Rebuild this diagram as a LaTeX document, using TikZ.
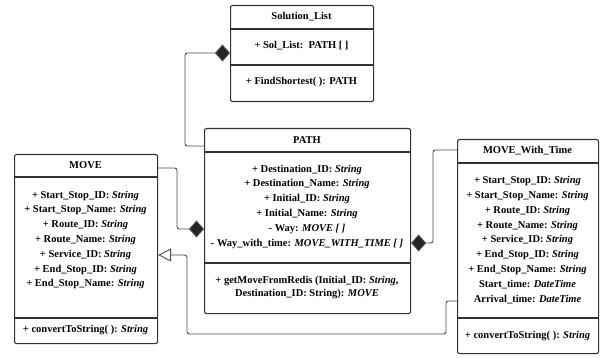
\documentclass[tikz,border=0pt]{standalone}
\usepackage{fontspec}
\setmainfont{Liberation Serif}
\usepackage{tikz}
\usetikzlibrary{arrows.meta}

\tikzset{
  umlbox/.style={draw=black!80, line width=1.1pt, rounded corners=2pt, anchor=north west, inner sep=0pt},
  umltxt/.style={align=center, inner sep=0pt, font=\fontsize{10.5}{14.8}\selectfont\bfseries},
  link/.style={draw=black!70, line width=0.9pt, rounded corners=2.5pt},
  comp/.style={link, -{Diamond[length=15pt,width=17pt,fill=black!85]}},
  gen/.style={link, -{Triangle[open,length=13pt,width=13pt,fill=white]}}
}

\begin{document}
\begin{tikzpicture}[x=1pt,y=-1pt]
    \useasboundingbox (0,0) rectangle (600,358);
    \node[umlbox, minimum width=143pt, minimum height=96pt] (sol) at (230,5) {};
    \draw[black!80, line width=1.1pt] (sol.west |- 0,29) -- (sol.east |- 0,29);
    \draw[black!80, line width=1.1pt] (sol.west |- 0,65) -- (sol.east |- 0,65);
    \node[umltxt] (sol-h) at (301.5,17) {Solution\_List};
    \node[umltxt] (sol-a) at (301.5,46) {+ Sol\_List:\ \ PATH [ ]};
    \node[umltxt] (sol-m) at (301.5,82) {+ FindShortest( ): PATH};

    \node[umlbox, minimum width=206pt, minimum height=185pt] (path) at (204,128) {};
    \draw[black!80, line width=1.1pt] (path.west |- 0,152) -- (path.east |- 0,152);
    \draw[black!80, line width=1.1pt] (path.west |- 0,263) -- (path.east |- 0,263);
    \node[umltxt] (path-h) at (307,140) {PATH};
    \node[umltxt] (path-a) at (307,206.5) {+ Destination\_ID: \textit{String}\\
        + Destination\_Name: \textit{String}\\
        + Initial\_ID: \textit{String}\\
        + Initial\_Name: \textit{String}\\
        - Way: \textit{MOVE [ ]}\\
        - Way\_with\_time: \textit{MOVE\_WITH\_TIME [ ]}};
    \node[umltxt, font=\fontsize{10.5}{13.5}\selectfont\bfseries] (path-m) at (307,287.5) {+ getMoveFromRedis (Initial\_ID: \textit{String},\\
        Destination\_ID: String): \textit{MOVE}};

    \node[umlbox, minimum width=143pt, minimum height=189pt] (move) at (14,154) {};
    \draw[black!80, line width=1.1pt] (move.west |- 0,177) -- (move.east |- 0,177);
    \draw[black!80, line width=1.1pt] (move.west |- 0,318) -- (move.east |- 0,318);
    \node[umltxt] (move-h) at (85.5,165.5) {MOVE};
    \node[umltxt] (move-a) at (85.5,240) {+ Start\_Stop\_ID: \textit{String}\\
        + Start\_Stop\_Name: \textit{String}\\
        + Route\_ID: \textit{String}\\
        + Route\_Name: \textit{String}\\
        + Service\_ID: \textit{String}\\
        + End\_Stop\_ID: \textit{String}\\
        + End\_Stop\_Name: \textit{String}};
    \node[umltxt] (move-m) at (85.5,330) {+ convertToString( ): \textit{String}};

    \node[umlbox, minimum width=141pt, minimum height=214pt] (mwt) at (457,139) {};
    \draw[black!80, line width=1.1pt] (mwt.west |- 0,163) -- (mwt.east |- 0,163);
    \draw[black!80, line width=1.1pt] (mwt.west |- 0,318) -- (mwt.east |- 0,318);
    \node[umltxt] (mwt-h) at (527.5,151) {MOVE\_With\_Time};
    \node[umltxt] (mwt-a) at (527.5,240) {+ Start\_Stop\_ID: \textit{String}\\
        + Start\_Stop\_Name: \textit{String}\\
        + Route\_ID: \textit{String}\\
        + Route\_Name: \textit{String}\\
        + Service\_ID: \textit{String}\\
        + End\_Stop\_ID: \textit{String}\\
        + End\_Stop\_Name: \textit{String}\\
        Start\_time: \textit{DateTime}\\
        Arrival\_time: \textit{DateTime}};
    \node[umltxt] (mwt-m) at (527.5,336) {+ convertToString( ): \textit{String}};

    \draw[comp] (path.west |- 0,146) -| (185,53) -- (sol.west |- 0,53);
    \draw[comp] (move.east |- 0,168) -| (177,229) -- (path.west |- 0,229);
    \draw[comp] (mwt.west |- 0,150) -| (433,243) -- (path.east |- 0,243);
    \draw[gen] (mwt.west |- 0,301) -| (446,334) -| (187,255) -- (move.east |- 0,255);
\end{tikzpicture}
\end{document}
